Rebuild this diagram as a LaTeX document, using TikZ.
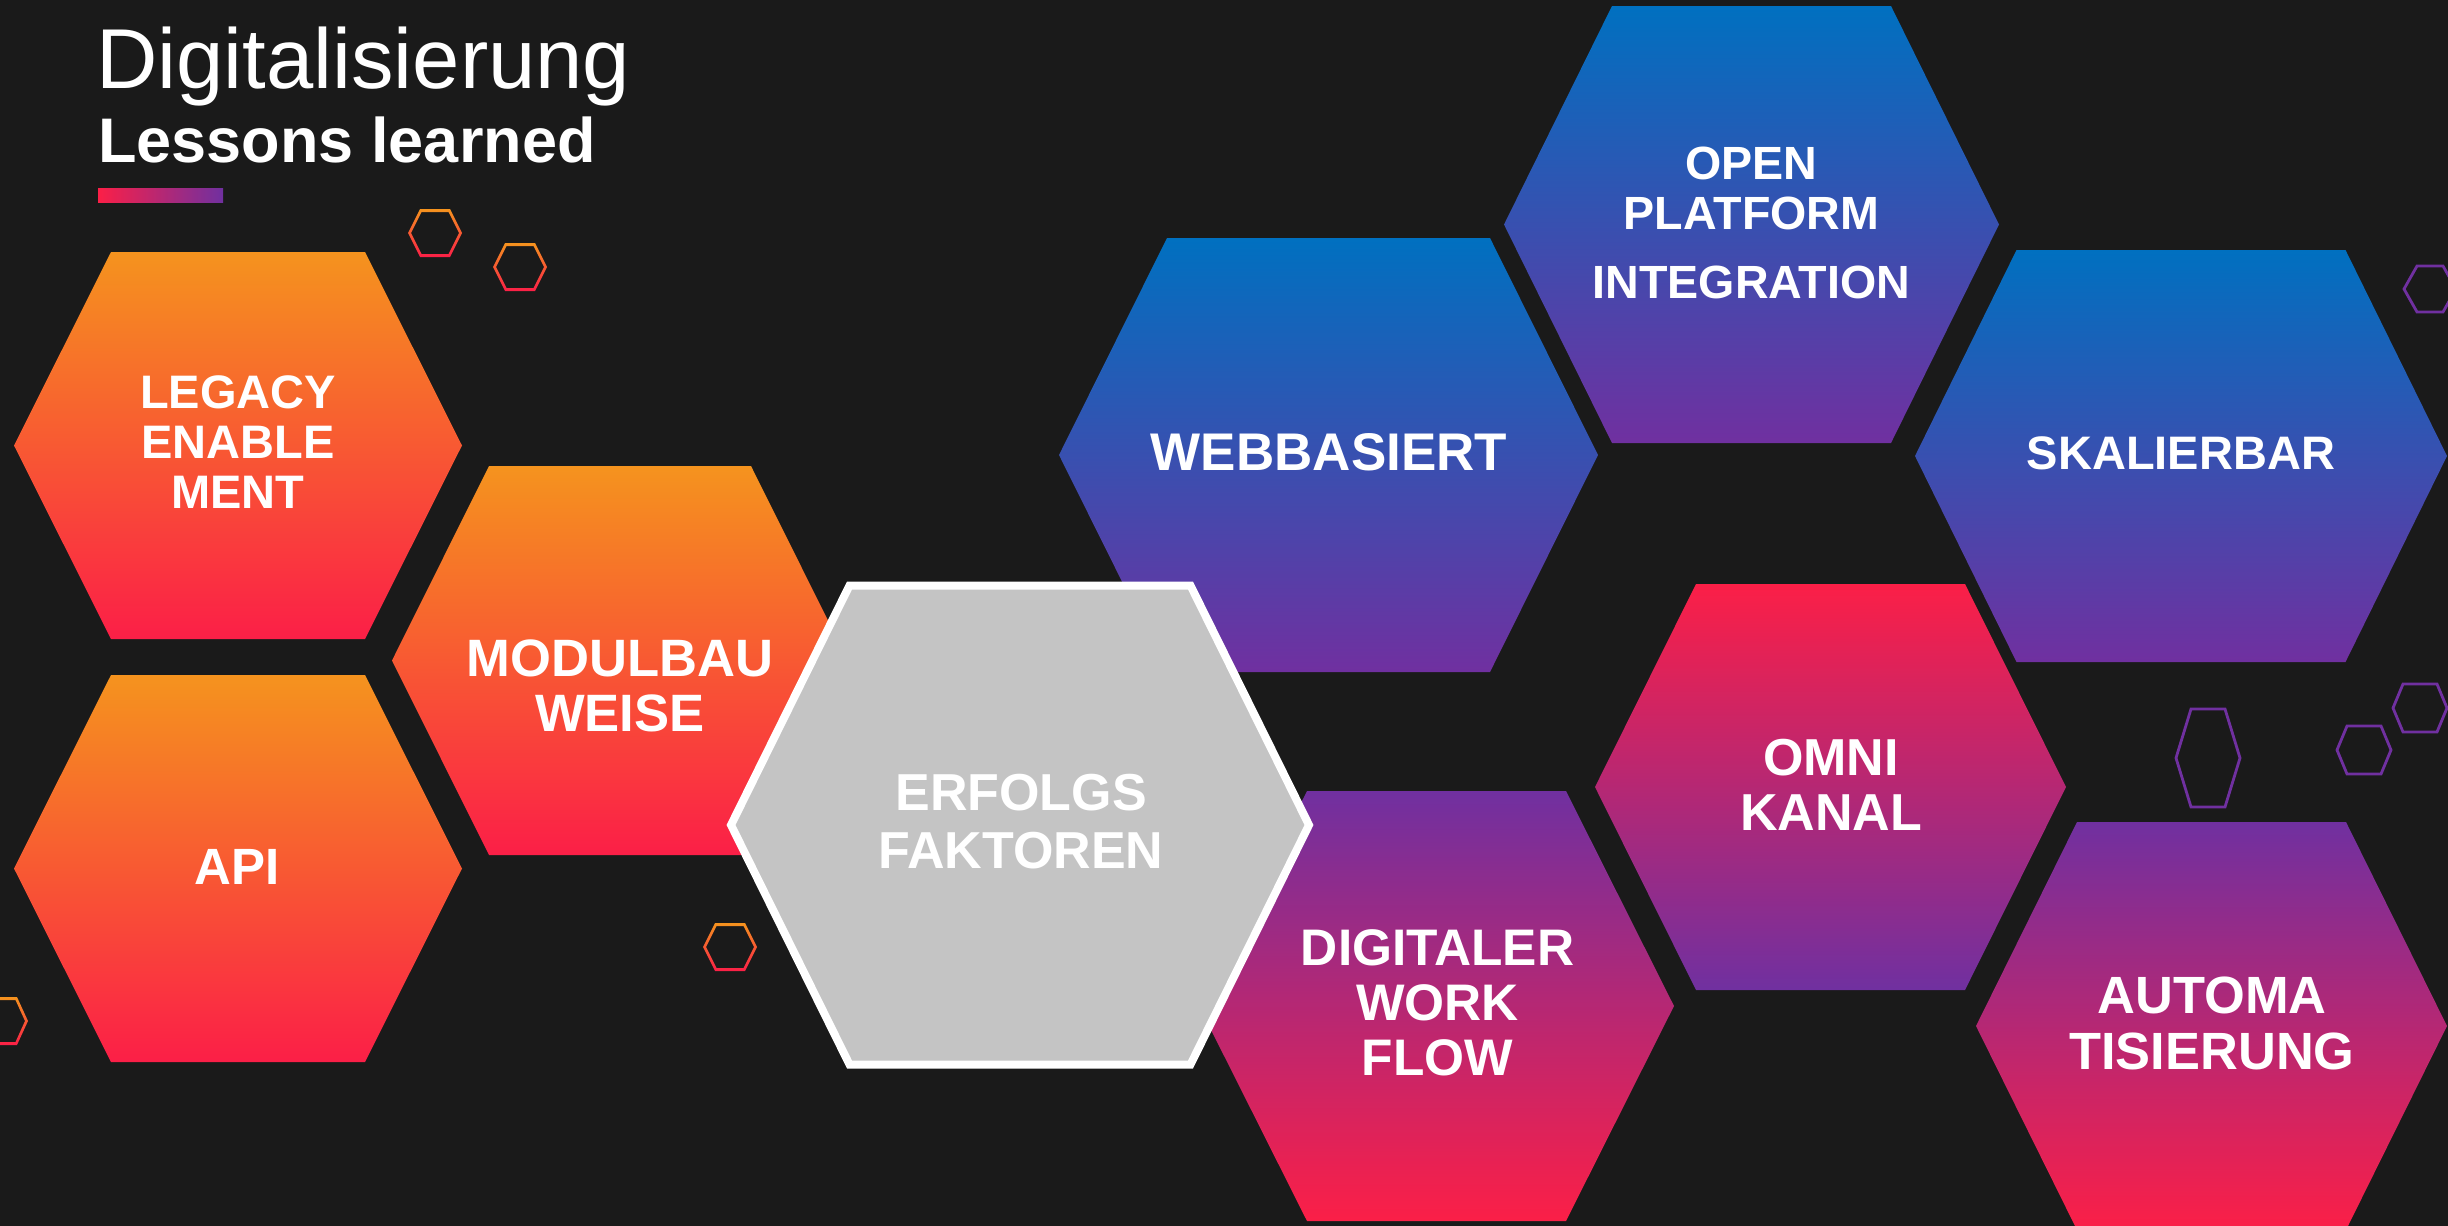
\documentclass[tikz,border=0pt]{standalone}
\usepackage{fontspec}
\setmainfont{Liberation Sans}
\definecolor{bg}{HTML}{1A1A1A}
\definecolor{orT}{HTML}{F5931E}
\definecolor{rdB}{HTML}{FB1F47}
\definecolor{blT}{HTML}{0070C0}
\definecolor{puB}{HTML}{7030A0}
\definecolor{erf}{HTML}{C4C4C4}
% hexagon path: centre x, centre y, half width, half top edge, half height
\newcommand\hexa[5]{(#1-#3,#2) -- (#1-#4,#2-#5) -- (#1+#4,#2-#5) -- (#1+#3,#2) -- (#1+#4,#2+#5) -- (#1-#4,#2+#5) -- cycle}
\newcommand\lblfont[2]{\fontsize{#1}{#2}\selectfont\bfseries}
\tikzset{
  lbl/.style={text=white, align=center, inner sep=0pt},
  warm/.style={top color=orT, bottom color=rdB},
  cool/.style={top color=blT, bottom color=puB},
  pinkup/.style={top color=rdB, bottom color=puB},
  pinkdown/.style={top color=puB, bottom color=rdB},
  ring/.style={top color=orT, bottom color=rdB, even odd rule},
  pring/.style={draw=puB, line width=1.4pt, line join=miter},
}
\begin{document}
\begin{tikzpicture}[x=0.5pt,y=-0.5pt]
\useasboundingbox (0,0) rectangle (2448,1226);
\fill[bg] (0,0) rectangle (2448,1226);
\clip (0,0) rectangle (2448,1226);

% title
\node[anchor=base west, inner sep=0pt, text=white, font=\fontsize{42.5}{45}\selectfont] (title) at (96,88) {Digitalisierung};
\node[anchor=base west, inner sep=0pt, text=white, font=\fontsize{31.5}{34}\selectfont\bfseries] (subtitle) at (98,162) {Lessons learned};
\shade[left color=rdB, right color=puB] (98,188) rectangle (223,202);

% small outline hexagons (warm)
\shade[ring] \hexa{435}{233}{27}{15}{24} \hexa{435}{233}{24}{13.5}{21};
\shade[ring] \hexa{520}{267}{27}{15}{24} \hexa{520}{267}{24}{13.5}{21};
\shade[ring] \hexa{730}{947}{27}{15}{24} \hexa{730}{947}{24}{13.5}{21};
\shade[ring] \hexa{1}{1021}{27}{16}{24} \hexa{1}{1021}{24}{14.5}{21};

% small outline hexagons (purple)
\draw[pring] \hexa{2430}{289}{26}{13}{23};
\draw[pring] \hexa{2208}{758}{32}{17}{49};
\draw[pring] \hexa{2364}{750}{27}{17}{24};
\draw[pring] \hexa{2420}{708}{27}{17}{24};

% warm hexagons
\shade[warm] \hexa{238}{445.5}{224}{127}{193.5};
\shade[warm] \hexa{238}{868.5}{224}{127}{193.5};
\shade[warm] \hexa{620}{660.5}{228}{131}{194.5};

% cool hexagons
\shade[cool] \hexa{1328.5}{455}{269.5}{161.5}{217};
\shade[cool] \hexa{1751.5}{224.5}{247.5}{139.5}{218.5};
\shade[cool] \hexa{2181}{456}{266}{164.5}{206};

% pink / purple hexagons
\shade[pinkup] \hexa{1830.5}{787}{235.5}{134.5}{203};
\shade[pinkdown] \hexa{1436.5}{1006}{237.5}{129.5}{215};
\shade[pinkdown] \hexa{2211.5}{1026}{235.5}{134.5}{204};

% centre hexagon
\filldraw[fill=erf, draw=white, line width=4pt, line join=miter] \hexa{1020}{825}{289}{170.5}{239.5};

% labels
\node[lbl, font=\lblfont{23.5}{25}] (legacy) at (238,442) {LEGACY\\ENABLE\\MENT};
\node[lbl, font=\lblfont{25.5}{27}] (api) at (237,867) {API};
\node[lbl, font=\lblfont{26.3}{27.5}] (modul) at (620,685.5) {MODULBAU\\WEISE};
\node[lbl, font=\lblfont{26}{29}] (erfolg) at (1021,821.5) {ERFOLGS\\FAKTOREN};
\node[lbl, font=\lblfont{26.5}{28}] (web) at (1329,452.5) {WEBBASIERT};
\node[lbl, font=\lblfont{23.3}{25}] (open) at (1751.5,223) {OPEN\\PLATFORM\\[9.5pt]INTEGRATION};
\node[lbl, font=\lblfont{23.5}{25}] (skal) at (2181,453) {SKALIERBAR};
\node[lbl, font=\lblfont{26}{27.5}] (omni) at (1831,784.5) {OMNI\\KANAL};
\node[lbl, font=\lblfont{25.7}{27.5}] (digi) at (1437.5,1003) {DIGITALER\\WORK\\FLOW};
\node[lbl, font=\lblfont{26.2}{28}] (auto) at (2212,1023) {AUTOMA\\TISIERUNG};
\end{tikzpicture}
\end{document}
